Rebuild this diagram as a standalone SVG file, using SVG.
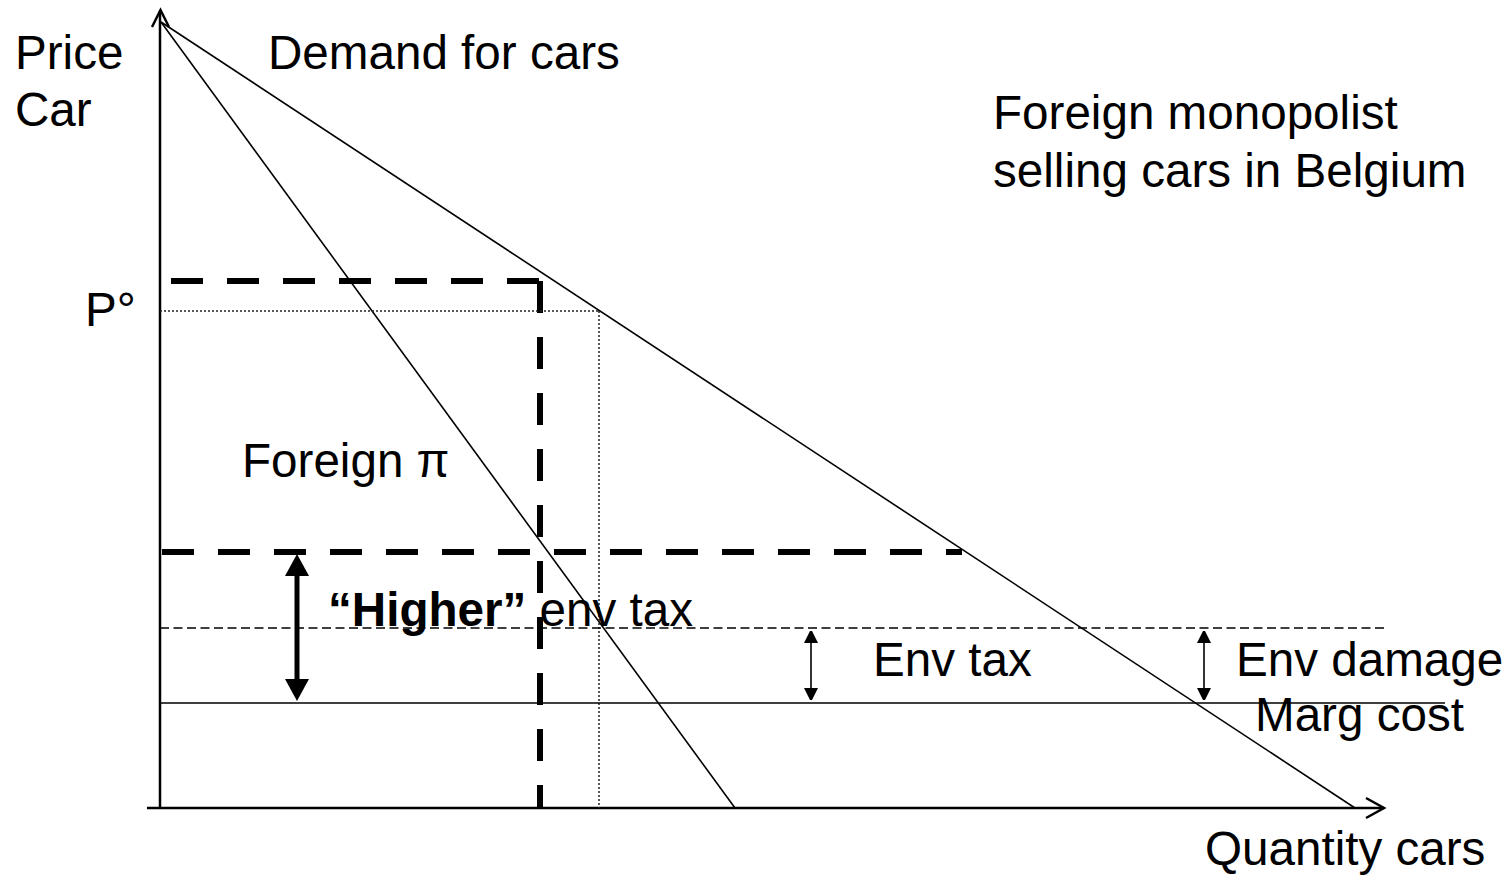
<svg xmlns="http://www.w3.org/2000/svg" width="1509" height="877" viewBox="0 0 1509 877">
<defs>
<style>
text{font-family:"Liberation Sans",Arial,sans-serif;font-size:47.6px;fill:#000}
.axis{stroke:#000;stroke-width:2.5;fill:none}
.thin{stroke:#000;stroke-width:1.6;fill:none}
.thick-dash{stroke:#000;stroke-width:6;fill:none;stroke-dasharray:32 24}
.dot{stroke:#222;stroke-width:1.5;fill:none;stroke-dasharray:2 2}
.tdash{stroke:#000;stroke-width:1.5;fill:none;stroke-dasharray:9 4.5}
</style>
<marker id="ah" viewBox="0 0 12 14" refX="0" refY="7" markerWidth="12" markerHeight="14" markerUnits="userSpaceOnUse" orient="auto-start-reverse">
<path d="M0,0 L14,7 L0,14 z" fill="#000"/>
</marker>
<marker id="ahb" viewBox="0 0 22 24" refX="0" refY="12" markerWidth="22" markerHeight="24" markerUnits="userSpaceOnUse" orient="auto-start-reverse">
<path d="M0,0 L22,12 L0,24 z" fill="#000"/>
</marker>
</defs>
<rect width="1509" height="877" fill="#fff"/>
<g id="axes">
<line class="axis" x1="160" y1="808" x2="160" y2="11"/>
<polyline class="axis" points="152,27 160.5,10 169,27"/>
<line class="axis" x1="147" y1="808" x2="1384" y2="808"/>
<polyline class="axis" points="1366,798 1384,808 1366,818"/>
</g>
<g id="connectors">
<line class="thin" x1="161" y1="22" x2="1355" y2="808"/>
<line class="thin" x1="161" y1="22" x2="735" y2="808"/>
<line class="thick-dash" x1="171" y1="281" x2="541" y2="281"/>
<line class="thick-dash" x1="540" y1="281" x2="540" y2="808"/>
<line class="thick-dash" x1="162" y1="552" x2="962" y2="552"/>
<line class="dot" x1="160" y1="311" x2="599" y2="311"/>
<line class="dot" x1="599" y1="311" x2="599" y2="808"/>
<line class="tdash" x1="160" y1="628" x2="1385" y2="628"/>
<line class="thin" x1="160" y1="703" x2="1445" y2="703"/>
<line stroke="#000" stroke-width="5" x1="297" y1="576" x2="297" y2="679" marker-start="url(#ahb)" marker-end="url(#ahb)"/>
<line stroke="#000" stroke-width="1.6" x1="811" y1="643" x2="811" y2="688" marker-start="url(#ah)" marker-end="url(#ah)"/>
<line stroke="#000" stroke-width="1.6" x1="1204" y1="643" x2="1204" y2="688" marker-start="url(#ah)" marker-end="url(#ah)"/>
</g>
<g id="labels">
<text x="15" y="69">Price</text>
<text x="15" y="126">Car</text>
<text x="268" y="69">Demand for cars</text>
<text x="993" y="129">Foreign monopolist</text>
<text x="993" y="187">selling cars in Belgium</text>
<text x="85" y="326">P°</text>
<text x="242" y="477">Foreign π</text>
<text x="328" y="626"><tspan font-weight="bold">“Higher”</tspan> env tax</text>
<text x="873" y="676">Env tax</text>
<text x="1236" y="676">Env damage</text>
<text x="1255" y="731">Marg cost</text>
<text x="1205" y="865">Quantity cars</text>
</g>
</svg>
